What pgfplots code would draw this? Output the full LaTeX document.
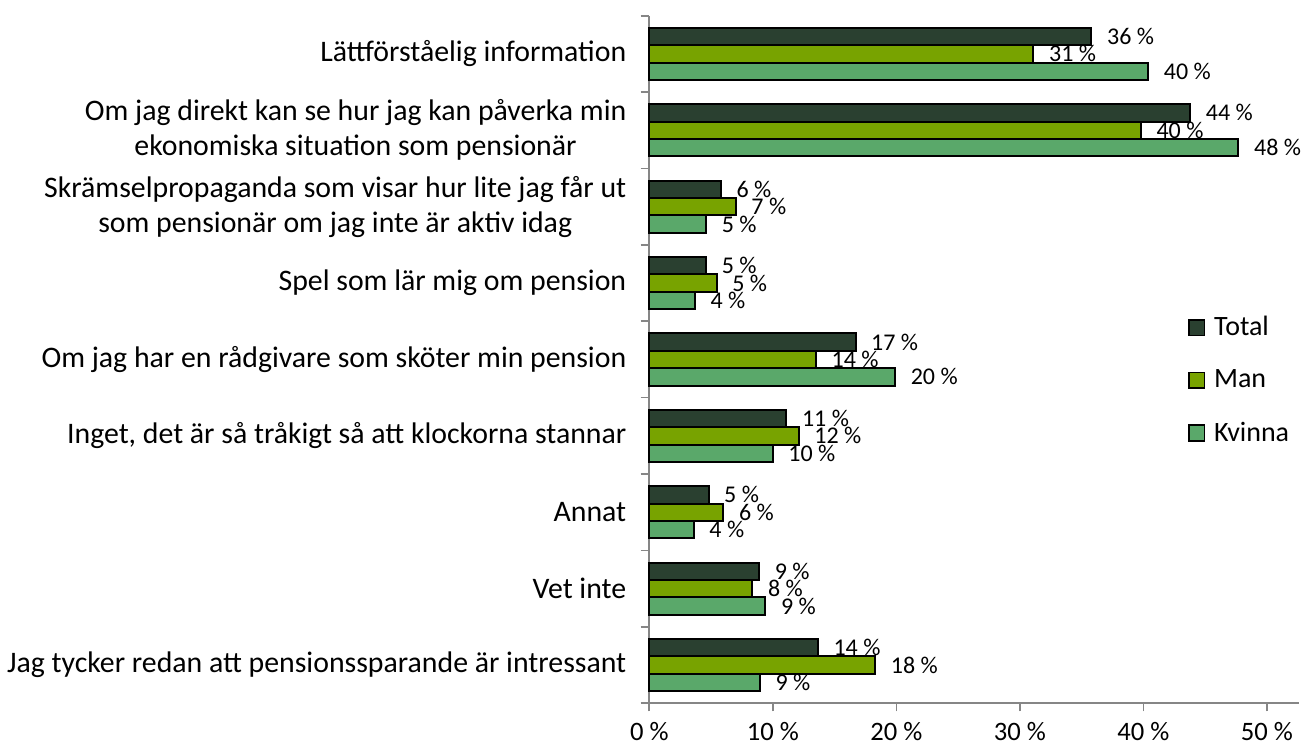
\documentclass[border=0pt]{standalone}
\usepackage{fontspec}
\setmainfont{Carlito}
\usepackage{pgfplots}
\pgfplotsset{compat=1.18}
\definecolor{cTotal}{RGB}{42,64,48}
\definecolor{cMan}{RGB}{120,163,0}
\definecolor{cKv}{RGB}{90,168,106}
\definecolor{axgray}{RGB}{134,134,134}
\begin{document}
\begin{tikzpicture}
\begin{axis}[
  name=ax, at={(0,0)}, anchor=south west,
  scale only axis, width=324.85pt, height=343.8pt,
  xbar, bar width=8.7pt,
  xmin=0, xmax=52.6, ymin=-0.5, ymax=8.5,
  axis x line*=bottom, axis y line*=left,
  axis line style={draw=axgray, line width=0.8pt},
  xtick={0,10,...,50},
  xticklabels={0 \%,10 \%,20 \%,30 \%,40 \%,50 \%},
  ytick={0,...,8},
  yticklabels={{Jag tycker redan att pensionssparande är intressant},{Vet inte},{Annat},{Inget, det är så tråkigt så att klockorna stannar},{Om jag har en rådgivare som sköter min pension},{Spel som lär mig om pension},{Skrämselpropaganda som visar hur lite jag får ut\\som pensionär om jag inte är aktiv idag},{Om jag direkt kan se hur jag kan påverka min\\ekonomiska situation som pensionär},{Lättförståelig information}},
  tick align=outside,
  major tick length=4pt,
  xtick style={draw=axgray, line width=0.8pt},
  ytick style={draw=none},
  minor ytick={-0.5,0.5,...,8.5},
  minor tick length=4.3pt,
  minor y tick style={draw=axgray, line width=0.8pt},
  yticklabel style={align=center, font=\fontsize{14.9}{17.5}\selectfont, text=black, xshift=-4pt},
  xticklabel style={font=\fontsize{13.3}{15}\selectfont, text=black, yshift=-2pt},
  nodes near coords, point meta=explicit symbolic,
  nodes near coords style={anchor=west, xshift=4pt, font=\fontsize{12}{13}\selectfont, text=black},
  legend image code/.code={\draw[#1,/tikz/.cd,line width=0.8pt] (0pt,-3.9pt) rectangle (7.8pt,3.9pt); \path[draw=none,fill=none] (0pt,0pt) -- (10.5pt,0pt);},
  legend cell align=left,
  legend style={draw=none, fill=none, at={(0.829,0.569)}, anchor=north west, font=\fontsize{14}{16}\selectfont, row sep=11.5pt, inner sep=0pt, column sep=0pt},
  clip=false,
]
\addplot[fill=cTotal, draw=black, line width=1pt, bar shift=8.7pt] coordinates {(13.65,0)[14 \%] (8.9,1)[9 \%] (4.8,2)[5 \%] (11.1,3)[11 \%] (16.7,4)[17 \%] (4.6,5)[5 \%] (5.8,6)[6 \%] (43.8,7)[44 \%] (35.8,8)[36 \%]};
\addlegendentry{Total}
\addplot[fill=cMan, draw=black, line width=1pt, bar shift=0pt] coordinates {(18.3,0)[18 \%] (8.35,1)[8 \%] (6.0,2)[6 \%] (12.1,3)[12 \%] (13.5,4)[14 \%] (5.45,5)[5 \%] (7.0,6)[7 \%] (39.8,7)[40 \%] (31.1,8)[31 \%]};
\addlegendentry{Man}
\addplot[fill=cKv, draw=black, line width=1pt, bar shift=-8.7pt] coordinates {(8.95,0)[9 \%] (9.4,1)[9 \%] (3.6,2)[4 \%] (10.0,3)[10 \%] (19.9,4)[20 \%] (3.7,5)[4 \%] (4.6,6)[5 \%] (47.7,7)[48 \%] (40.4,8)[40 \%]};
\addlegendentry{Kvinna}
\end{axis}
\pgfresetboundingbox
\path (-324.65pt,-21.85pt) rectangle (326.85pt,351.65pt);
\end{tikzpicture}
\end{document}
